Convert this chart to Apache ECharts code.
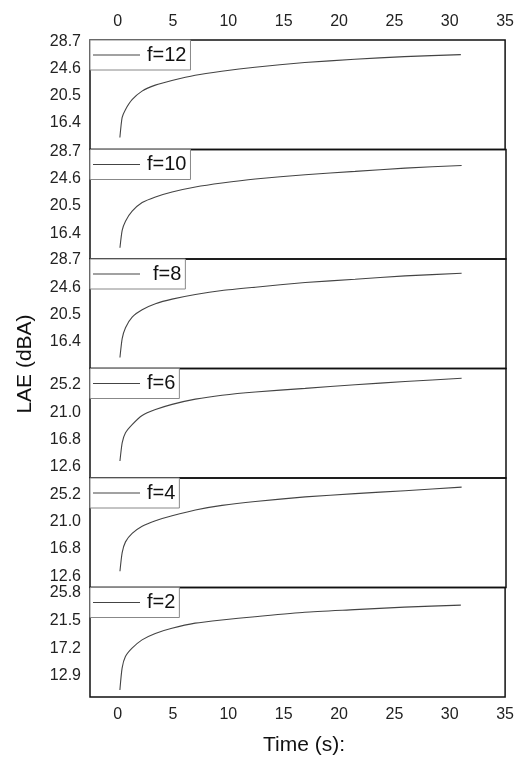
<!DOCTYPE html>
<html>
<head>
<meta charset="utf-8">
<script src="https://cdn.jsdelivr.net/npm/echarts@6/dist/echarts.min.js"></script>
<style>html,body{margin:0;padding:0;background:#fff}#c{width:517px;height:758px}</style>
</head>
<body>
<div id="c"></div>
<script>
// Data
const timeS = [0.2, 0.4, 0.7, 1.3, 2.2, 3.4, 4.9, 7, 9.4, 12.4, 16.9, 21.4, 25.9, 31];
const f12 = [14.2, 17.2, 18.4, 19.9, 21.2, 22.1, 22.8, 23.6, 24.2, 24.8, 25.5, 26.0, 26.4, 26.7];
const f10 = [14.2, 16.8, 18.2, 19.7, 21.0, 21.85, 22.6, 23.35, 23.95, 24.55, 25.2, 25.7, 26.2, 26.6];
const f8  = [14.0, 16.85, 18.5, 20.1, 21.2, 22.1, 22.8, 23.5, 24.1, 24.6, 25.3, 25.8, 26.3, 26.7];
const f6  = [13.5, 16.3, 17.85, 19.1, 20.5, 21.4, 22.2, 23.0, 23.6, 24.1, 24.65, 25.2, 25.7, 26.2];
const f4  = [13.4, 16.25, 17.9, 19.2, 20.3, 21.15, 21.9, 22.8, 23.5, 24.1, 24.8, 25.3, 25.75, 26.3];
const f2  = [10.7, 14.1, 15.9, 17.2, 18.5, 19.5, 20.3, 21.1, 21.6, 22.1, 22.8, 23.2, 23.6, 23.9];

const seriesNames = ['f=12', 'f=10', 'f=8', 'f=6', 'f=4', 'f=2'];
const seriesValues = [f12, f10, f8, f6, f4, f2];
const yTickLabels = [
  [16.4, 20.5, 24.6, 28.7],
  [16.4, 20.5, 24.6, 28.7],
  [16.4, 20.5, 24.6, 28.7],
  [12.6, 16.8, 21.0, 25.2],
  [12.6, 16.8, 21.0, 25.2],
  [12.9, 17.2, 21.5, 25.8]
];
const yMin = [12.4, 12.5, 12.35, 10.9, 10.9, 9.6];
const yMax = [28.9, 29.0, 28.85, 27.7, 27.7, 26.65];
const xTickLabels = [0, 5, 10, 15, 20, 25, 30, 35];

const chart = echarts.init(document.getElementById('c'), null, {renderer: 'canvas'});
const FONT = 'Liberation Sans, Arial, sans-serif';
const top0 = 40, panelH = 109.5;

const grids = [], xAxes = [], yAxes = [], series = [], legends = [];
seriesNames.forEach((name, i) => {
  const t = top0 + i * panelH;
  grids.push({left: 90, right: 11, top: t, height: panelH, show: true,
    borderColor: '#111', borderWidth: 1.5, backgroundColor: 'transparent'});
  xAxes.push({
    type: 'value', gridIndex: i, min: -2.5, max: 35,
    position: i === 0 ? 'top' : 'bottom',
    axisLine: {show: false}, axisTick: {show: false}, splitLine: {show: false},
    axisLabel: {show: i === 0 || i === 5, customValues: xTickLabels, color: '#222',
      fontSize: 16, fontFamily: FONT, margin: 10}
  });
  yAxes.push({
    type: 'value', gridIndex: i, min: yMin[i], max: yMax[i],
    axisLine: {show: false}, axisTick: {show: false}, splitLine: {show: false},
    axisLabel: {customValues: yTickLabels[i], color: '#222', fontSize: 16, fontFamily: FONT,
      margin: 9, formatter: v => v.toFixed(1)}
  });
  series.push({
    name: name, type: 'line', xAxisIndex: i, yAxisIndex: i,
    data: timeS.map((x, k) => [x, seriesValues[i][k]]),
    showSymbol: false, symbol: 'none', smooth: 0.2,
    lineStyle: {color: '#444', width: 1.1}, itemStyle: {color: '#444'},
    silent: true, animation: false
  });
  legends.push({
    data: [name], left: 90, top: t, orient: 'vertical',
    icon: 'rect', itemWidth: 47, itemHeight: 1,
    padding: [5, 4, 5, 3], backgroundColor: '#fff',
    borderColor: '#888', borderWidth: 1, borderRadius: 0,
    textStyle: {fontSize: 20, color: '#111', fontFamily: FONT,
      padding: [0, 0, 0, name === 'f=8' ? 8 : 2]},
    selectedMode: false
  });
});

chart.setOption({
  animation: false,
  backgroundColor: '#fff',
  grid: grids, xAxis: xAxes, yAxis: yAxes, series: series, legend: legends,
  graphic: [
    {type: 'text', rotation: Math.PI / 2,
      style: {text: 'LAE (dBA)', fontSize: 21, fontFamily: FONT, fill: '#111',
        align: 'center', verticalAlign: 'middle'},
      x: 25, y: 364},
    {type: 'text',
      style: {text: 'Time (s):', fontSize: 21, fontFamily: FONT, fill: '#111',
        align: 'center', verticalAlign: 'middle'},
      x: 304, y: 745}
  ]
});
</script>
</body>
</html>
